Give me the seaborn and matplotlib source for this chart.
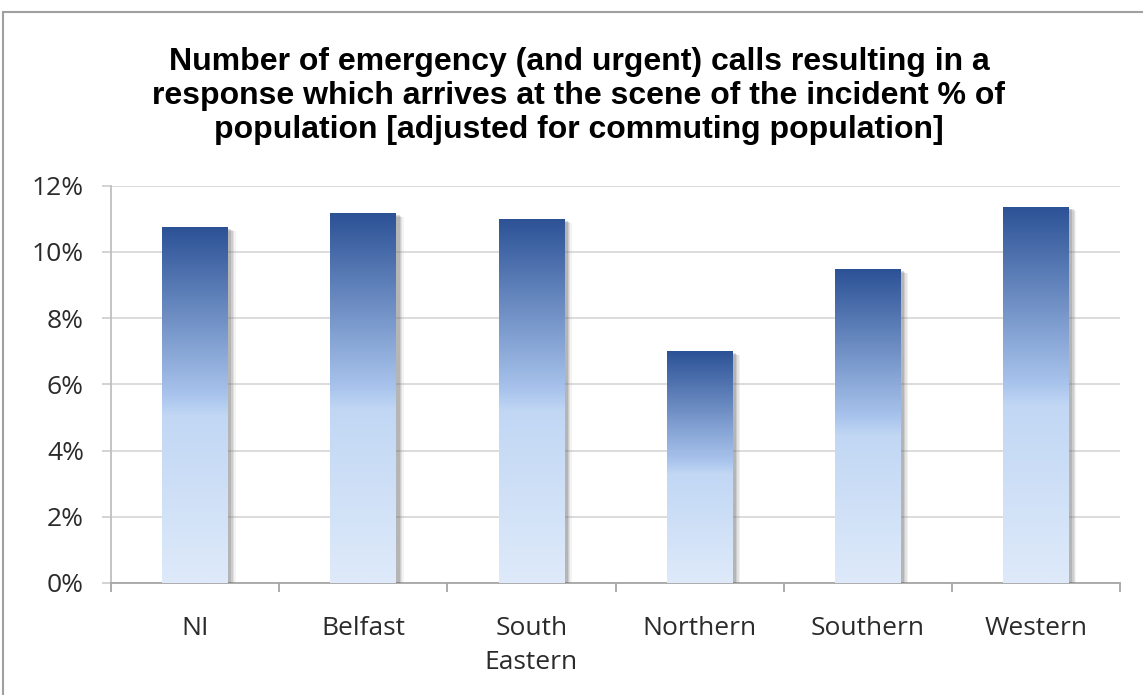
import numpy as np
import matplotlib
matplotlib.use("Agg")
import matplotlib.pyplot as plt
import matplotlib.patheffects as pe
from matplotlib.colors import LinearSegmentedColormap
from matplotlib.patches import Rectangle
from matplotlib.ticker import FuncFormatter, FixedLocator
import seaborn as sns

categories = ["NI", "Belfast", "South\nEastern", "Northern", "Southern", "Western"]
values = [10.75, 11.17, 11.0, 7.0, 9.48, 11.37]
yticks = [0, 2, 4, 6, 8, 10, 12]
title = ("Number of emergency (and urgent) calls resulting in a\n"
         "response which arrives at the scene of the incident % of\n"
         "population [adjusted for commuting population]")

sns.set_theme(style="white")
plt.rcParams['font.family'] = ['Open Sans', 'DejaVu Sans']

fig = plt.figure(figsize=(11.43, 6.95), dpi=100)
ax = fig.add_axes([111/1143, 1-583/695, (1120-111)/1143, (583-185.7)/695])

sns.barplot(x=categories, y=values, width=0.39, color="#5b7fbf", ax=ax,
            edgecolor="none", linewidth=0, zorder=3)

cmap = LinearSegmentedColormap.from_list("grad", [
    (0.0, (222/255, 234/255, 250/255)),
    (0.47, (193/255, 215/255, 244/255)),
    (0.53, (168/255, 195/255, 236/255)),
    (1.0, (44/255, 82/255, 150/255)),
])
grad = np.linspace(0, 1, 256).reshape(-1, 1)

shadow = [
    pe.SimplePatchShadow(offset=(5.5, -3.0), shadow_rgbFace="#909090", alpha=0.10),
    pe.SimplePatchShadow(offset=(4.5, -2.5), shadow_rgbFace="#808080", alpha=0.14),
    pe.SimplePatchShadow(offset=(3.5, -2.0), shadow_rgbFace="#707070", alpha=0.18),
    pe.SimplePatchShadow(offset=(2.5, -1.5), shadow_rgbFace="#606060", alpha=0.22),
    pe.Normal(),
]
for p in list(ax.patches):
    x0, y0 = p.get_x(), p.get_y()
    w, h = p.get_width(), p.get_height()
    p.set_path_effects(shadow)
    im = ax.imshow(grad, cmap=cmap, origin="lower", aspect="auto",
                   extent=[x0, x0 + w, y0, y0 + h], zorder=4, interpolation="bilinear")
    im.set_clip_path(p)

ax.set_xlim(-0.5, len(categories) - 0.5)
ax.set_ylim(0, 12)
ax.set_yticks(yticks)
ax.yaxis.set_major_formatter(FuncFormatter(lambda v, _: f"{v:.0f}%"))
ax.yaxis.grid(True, color="#d9d9d9", lw=1.3)
ax.set_axisbelow(True)

for s in ["top", "right"]:
    ax.spines[s].set_visible(False)
ax.spines["left"].set_color("#bfbfbf")
ax.spines["left"].set_linewidth(1.3)
ax.spines["bottom"].set_color("#a6a6a6")
ax.spines["bottom"].set_linewidth(1.3)

ax.tick_params(axis="y", length=6.5, width=1.3, color="#d0d0d0", pad=13,
               labelsize=19, labelcolor="#2b2b2b", left=True)
ax.xaxis.set_minor_locator(FixedLocator(np.arange(-0.5, len(categories), 1.0)))
ax.tick_params(axis="x", which="minor", length=6.5, width=1.3, color="#a6a6a6", bottom=True)
ax.tick_params(axis="x", which="major", length=0, pad=24, labelsize=19, labelcolor="#2b2b2b")
for lbl in ax.get_xticklabels():
    lbl.set_linespacing(1.45)
    lbl.set_verticalalignment("top")
ax.set_xlabel("")
ax.set_ylabel("")

fig.text(579/1143, 1-96/695, title, ha="center", va="center", fontsize=23,
         fontweight="bold", family=["Liberation Sans", "DejaVu Sans"],
         linespacing=1.16, color="#000000")

fig.patches.append(Rectangle((3/1143, -0.05), 1.2, 1-12/695+0.05, fill=False,
                             edgecolor="#a0a0a0", lw=1.5, transform=fig.transFigure))

fig.savefig("out.png", dpi=100)
